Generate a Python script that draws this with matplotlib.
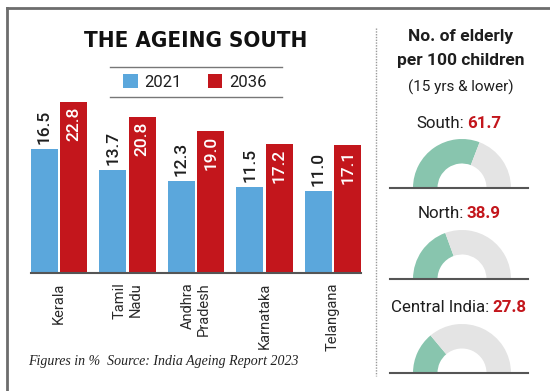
import matplotlib
matplotlib.use('Agg')
import matplotlib.pyplot as plt
from matplotlib.lines import Line2D
from matplotlib import font_manager
import numpy as np

# Data read from the graphic
states = ["Kerala", "Tamil\nNadu", "Andhra\nPradesh", "Karnataka", "Telangana"]
share_2021 = [16.5, 13.7, 12.3, 11.5, 11.0]
share_2036 = [22.8, 20.8, 19.0, 17.2, 17.1]
years = ["2021", "2036"]

regions = ["South", "North", "Central India"]
elderly_per_100 = [61.7, 38.9, 27.8]

BLUE = "#5ba7dc"
RED = "#c3161c"
GREEN = "#88c5ae"
LIGHT = "#e4e4e4"
DARK = "#1e1e1e"
SANS = ["Roboto", "DejaVu Sans"]

# look for a condensed face for the headline
cond = font_manager.findfont(font_manager.FontProperties(
    family="DejaVu Sans", weight="bold", stretch="condensed"))
HAS_COND = "Condensed" in cond

W, H = 550, 391
fig = plt.figure(figsize=(5.5, 3.91), dpi=100)


def fx(px):
    return px / W


def fy(py):
    return 1 - py / H


# --- frame lines ---
fig.add_artist(Line2D([fx(7), 1], [fy(8), fy(8)], color="#6d6d6d", lw=2))
fig.add_artist(Line2D([fx(7), fx(7)], [fy(8), 0], color="#6d6d6d", lw=2))
fig.add_artist(Line2D([fx(376), fx(376)], [fy(28), fy(376)], color="#9a9a9a",
                      lw=1, linestyle=(0, (1, 1))))

# --- bar chart ---
ax = fig.add_axes([fx(31), fy(273), (361 - 31) / W, (273 - 93) / H])
x = np.arange(len(states))
off, bw = 0.215, 0.39
bars_a = ax.bar(x - off, share_2021, bw, color=BLUE, label=years[0])
bars_b = ax.bar(x + off, share_2036, bw, color=RED, label=years[1])
ax.set_xlim(-0.41, 4.41)
ax.set_ylim(0, 24)
for s in ["top", "left", "right"]:
    ax.spines[s].set_visible(False)
ax.spines["bottom"].set_color("#555555")
ax.spines["bottom"].set_linewidth(1.5)
ax.set_yticks([])
ax.set_xticks(x)
ax.set_xticklabels(states, rotation=90, va="top", ha="center",
                   multialignment="right", fontsize=10.5, color="#2a2a2a",
                   family=SANS)
ax.tick_params(axis="x", length=0, pad=7)

for rect, v in zip(bars_a, share_2021):
    ax.annotate(f"{v:.1f}", (rect.get_x() + rect.get_width() / 2, v),
                xytext=(0, 3.5), textcoords="offset points", rotation=90,
                ha="center", va="bottom", fontsize=12.5, color=DARK,
                family=SANS, weight="medium")
for rect, v in zip(bars_b, share_2036):
    ax.annotate(f"{v:.1f}", (rect.get_x() + rect.get_width() / 2, v),
                xytext=(0, -3.5), textcoords="offset points", rotation=90,
                ha="center", va="top", fontsize=12.5, color="white",
                family=SANS, weight="medium")

# title + legend
if HAS_COND:
    fig.text(fx(196), fy(41), "THE AGEING SOUTH", ha="center", va="center",
             fontsize=16, weight="bold", family="DejaVu Sans",
             stretch="condensed", color="#111111")
else:
    fig.text(fx(196), fy(41), "THE AGEING SOUTH", ha="center", va="center",
             fontsize=15, weight="bold", family="Liberation Sans",
             color="#111111")
fig.add_artist(Line2D([fx(110), fx(282)], [fy(67), fy(67)], color="#777777", lw=1))
fig.add_artist(Line2D([fx(110), fx(282)], [fy(97), fy(97)], color="#777777", lw=1))
leg = ax.legend(loc="center", bbox_to_anchor=(fx(195), fy(82)),
                bbox_transform=fig.transFigure, ncol=2, frameon=False,
                handlelength=0.85, handleheight=0.85, handletextpad=0.4,
                columnspacing=1.6, prop={"family": SANS, "size": 12})
for t in leg.get_texts():
    t.set_color(DARK)

# footer
fig.text(fx(28), fy(361), "Figures in %  Source: India Ageing Report 2023",
         ha="left", va="center", fontsize=10, style="italic",
         family=["Liberation Serif", "DejaVu Serif"], color="#222222")

# --- right panel ---
fig.text(fx(461), fy(37), "No. of elderly", ha="center", va="center",
         fontsize=12.5, weight="bold", family=SANS, color=DARK)
fig.text(fx(461), fy(61), "per 100 children", ha="center", va="center",
         fontsize=12.5, weight="bold", family=SANS, color=DARK)
fig.text(fx(461), fy(87), "(15 yrs & lower)", ha="center", va="center",
         fontsize=11, family=SANS, color=DARK)

label_y = [124, 214, 307]
base_y = [188, 279, 373]
renderer = fig.canvas.get_renderer()
r_px = 49
for name, val, ly, by in zip(regions, elderly_per_100, label_y, base_y):
    t1 = fig.text(0, fy(ly), name + ":", ha="left", va="center",
                  fontsize=12.2, family=SANS, color=DARK)
    t2 = fig.text(0, fy(ly), f"{val:.1f}", ha="left", va="center",
                  fontsize=12.2, weight="bold", family=SANS, color=RED)
    w1 = t1.get_window_extent(renderer).width
    w2 = t2.get_window_extent(renderer).width
    gap = 3
    left = 459 - (w1 + gap + w2) / 2
    t1.set_x(fx(left))
    t2.set_x(fx(left + w1 + gap))

    # half donut gauge
    x0, x1 = -1.47, 1.35
    y1 = 1.05
    dax = fig.add_axes([fx(462 + x0 * r_px), fy(by), (x1 - x0) * r_px / W,
                        y1 * r_px / H])
    dax.pie([val, 100 - val, 100], colors=[GREEN, LIGHT, "none"],
            startangle=180, counterclock=False, radius=1,
            wedgeprops=dict(width=0.5, linewidth=0))
    dax.set_aspect("auto")
    dax.set_xlim(x0, x1)
    dax.set_ylim(0, y1)
    dax.axis("off")
    dax.axhline(0, color="#555555", lw=1.5, clip_on=False)

fig.savefig("out.png", dpi=100)
plt.close(fig)
